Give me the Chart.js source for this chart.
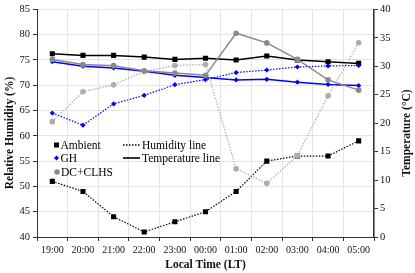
<!DOCTYPE html>
<html>
<head>
<meta charset="utf-8">
<script src="https://cdn.jsdelivr.net/npm/chart.js@4.4.1/dist/chart.umd.min.js"></script>
<style>
  html, body { margin: 0; padding: 0; background: #fff; }
  #wrap { width: 415px; height: 273px; position: relative; }
</style>
</head>
<body>
<div id="wrap"><canvas id="myChart" width="415" height="273"></canvas></div>
<script>
'use strict';
// =============== data ===============
const times = ['19:00', '20:00', '21:00', '22:00', '23:00', '00:00', '01:00', '02:00', '03:00', '04:00', '05:00'];

// relative humidity (%), left axis
const ambientRH = [51, 49, 44, 41, 43, 45, 49, 55, 56, 56, 59];
const ghRH = [64.5, 62.1, 66.3, 68.0, 70.1, 71.1, 72.5, 73.0, 73.6, 73.8, 73.9];
const dcRH = [62.8, 68.7, 70.1, 72.7, 73.9, 74.1, 53.5, 50.6, 56.1, 67.9, 78.4];

// temperature (°C), right axis
const ambientT = [32.2, 31.9, 31.9, 31.6, 31.2, 31.4, 31.1, 31.8, 31.1, 30.8, 30.5];
const ghT = [30.8, 30.0, 29.7, 29.1, 28.4, 28.0, 27.6, 27.7, 27.2, 26.8, 26.6];
const dcT = [31.2, 30.3, 30.1, 29.2, 28.8, 28.4, 35.8, 34.1, 31.2, 27.6, 25.8];

const FONT = "'Liberation Serif', 'Times New Roman', serif";
const BLACK = '#000000';
const BLUE = '#0000ff';
const GREY_T = '#8a8a8a';
const GREY_H = '#ababab';

function humidity(label, data, color, shape, r) {
    return {
        label: label, data: data, yAxisID: 'yH',
        borderColor: color, backgroundColor: color,
        borderWidth: 1.2, borderDash: [1.5, 1.5],
        pointStyle: shape, pointRadius: r, pointBorderWidth: 0,
        tension: 0
    };
}
function temperature(label, data, color, shape, r) {
    return {
        label: label, data: data, yAxisID: 'yT',
        borderColor: color, backgroundColor: color,
        borderWidth: 1.5,
        pointStyle: shape, pointRadius: r, pointBorderWidth: 0,
        tension: 0
    };
}

// =============== titles + legend ===============
const extras = {
    id: 'extras',
    afterDraw(chart) {
        const ctx = chart.ctx;
        const area = chart.chartArea;
        ctx.save();
        ctx.fillStyle = '#111';
        ctx.textAlign = 'center';
        ctx.textBaseline = 'middle';
        ctx.font = 'bold 11.5px ' + FONT;
        ctx.fillText('Local Time (LT)', (area.left + area.right) / 2, 265);

        ctx.save();
        ctx.translate(10, 133);
        ctx.rotate(-Math.PI / 2);
        ctx.fillText('Relative Humidity (%)', 0, 0);
        ctx.restore();

        ctx.save();
        ctx.translate(407, 133);
        ctx.rotate(-Math.PI / 2);
        ctx.fillText('Temperature (°C)', 0, 0);
        ctx.restore();

        // legend
        ctx.textAlign = 'left';
        ctx.font = '11.5px ' + FONT;
        ctx.fillStyle = BLACK;
        ctx.fillRect(54, 142.5, 5, 5);
        ctx.fillText('Ambient', 60.5, 145.5);

        ctx.fillStyle = BLUE;
        ctx.beginPath();
        ctx.moveTo(56.5, 155.5); ctx.lineTo(59, 158); ctx.lineTo(56.5, 160.5); ctx.lineTo(54, 158);
        ctx.closePath(); ctx.fill();
        ctx.fillStyle = BLACK;
        ctx.fillText('GH', 60.5, 158.5);

        ctx.fillStyle = GREY_T;
        ctx.beginPath(); ctx.arc(57, 172, 2.8, 0, Math.PI * 2); ctx.fill();
        ctx.fillStyle = BLACK;
        ctx.fillText('DC+CLHS', 61, 172.5);

        ctx.strokeStyle = BLACK;
        ctx.lineWidth = 1.4;
        ctx.setLineDash([1.5, 1.5]);
        ctx.beginPath(); ctx.moveTo(123, 145); ctx.lineTo(140, 145); ctx.stroke();
        ctx.setLineDash([]);
        ctx.lineWidth = 1.6;
        ctx.beginPath(); ctx.moveTo(123, 158); ctx.lineTo(140, 158); ctx.stroke();
        ctx.fillText('Humidity line', 142, 145.5);
        ctx.fillText('Temperature line', 142, 158.5);
        ctx.restore();
    }
};

// =============== chart ===============
let myChart = document.getElementById('myChart').getContext('2d');

let LineChart = new Chart(myChart, {
    type: 'line',
    data: {
        labels: times,
        datasets: [
            temperature('DC+CLHS temperature', dcT, GREY_T, 'circle', 2.8),
            humidity('DC+CLHS humidity', dcRH, GREY_H, 'circle', 2.8),
            temperature('GH temperature', ghT, BLUE, 'rectRot', 2.6),
            humidity('GH humidity', ghRH, BLUE, 'rectRot', 2.6),
            temperature('Ambient temperature', ambientT, BLACK, 'rect', 3.6),
            humidity('Ambient humidity', ambientRH, BLACK, 'rect', 3.6)
        ]
    },
    options: {
        responsive: false,
        animation: false,
        layout: { padding: { top: 9, left: 0, right: 0, bottom: 0 } },
        plugins: {
            legend: { display: false },
            tooltip: { enabled: false }
        },
        scales: {
            x: {
                offset: true,
                grid: { offset: true, color: '#e4e4e4', tickColor: '#333', tickLength: 4 },
                border: { color: '#333', width: 1 },
                ticks: { color: '#111', font: { family: FONT, size: 10 }, padding: 3, maxRotation: 0, autoSkip: false },
                afterFit(scale) { scale.height = 36; }
            },
            yH: {
                position: 'left',
                min: 40, max: 85,
                grid: { color: '#e4e4e4', tickColor: '#333', tickLength: 4 },
                border: { color: '#333', width: 1 },
                ticks: { stepSize: 5, color: '#111', font: { family: FONT, size: 10.5 }, padding: 3 },
                afterFit(scale) { scale.width = 37; }
            },
            yT: {
                position: 'right',
                min: 0, max: 40,
                grid: { drawOnChartArea: false, tickColor: '#333', tickLength: 4 },
                border: { color: '#333', width: 1.5 },
                ticks: { stepSize: 5, color: '#111', font: { family: FONT, size: 10.5 }, padding: 2 },
                afterFit(scale) { scale.width = 41; }
            }
        }
    },
    plugins: [extras]
});
</script>
</body>
</html>
